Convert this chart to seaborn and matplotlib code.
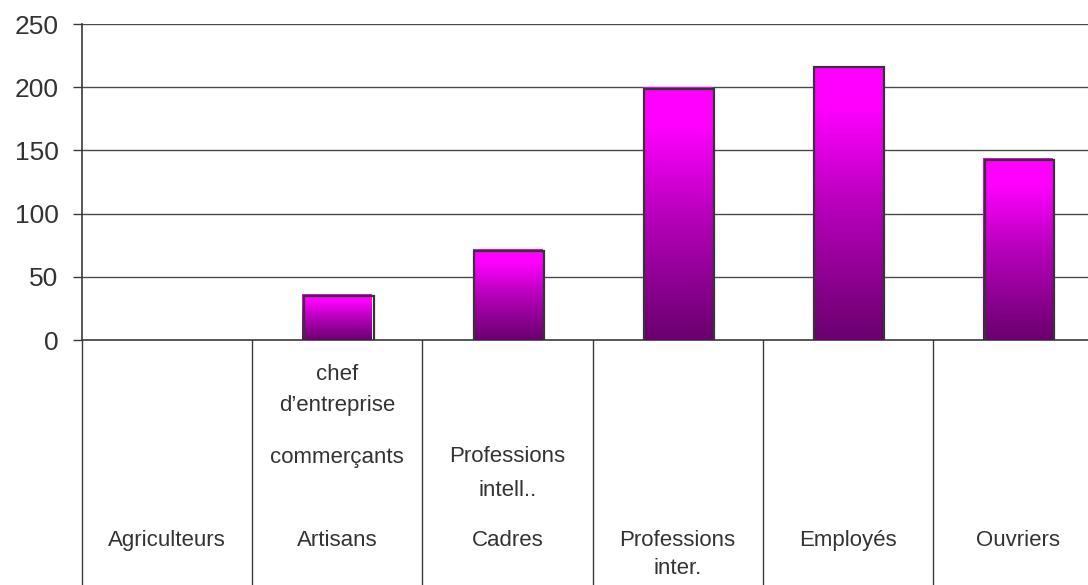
import numpy as np
import pandas as pd
import seaborn as sns
import matplotlib
matplotlib.use("Agg")
import matplotlib.pyplot as plt
from matplotlib.colors import LinearSegmentedColormap
from matplotlib.patches import Rectangle
from matplotlib.transforms import blended_transform_factory, ScaledTranslation

# Effectifs par catégorie socioprofessionnelle
categories = ["Agriculteurs", "Artisans", "Cadres", "Professions\ninter.", "Employés", "Ouvriers"]
values = [0, 36, 72, 200, 217, 144]
y_ticks = [0, 50, 100, 150, 200, 250]

# Lignes complémentaires au-dessus de certaines étiquettes
extra_labels = [
    (1, "chef", 375),
    (1, "d\u2019entreprise", 406),
    (1, "commerçants", 457),
    (2, "Professions", 457),
    (2, "intell..", 491),
]

sns.set_theme(style="white")
plt.rcParams["font.family"] = ["Liberation Sans", "DejaVu Sans"]

W, H = 1088, 585
LABEL_SIZE = 16
fig = plt.figure(figsize=(W / 100, H / 100), dpi=100)
ax = fig.add_axes([82 / W, (H - 340) / H, 1021 / W, 316 / H])

df = pd.DataFrame({"cat": categories, "val": values})
sns.barplot(data=df, x="cat", y="val", ax=ax, width=0.41, color="#ff00ff",
            saturation=1, zorder=3)

ax.set_xlim(-0.5, len(categories) - 0.5)
ax.set_ylim(0, 250)
ax.set_yticks(y_ticks)
ax.set_xlabel("")
ax.set_ylabel("")

# Grille horizontale
for t in y_ticks[1:]:
    ax.axhline(t, color="#4a4a4a", lw=1.0, zorder=1)

for s in ["top", "right"]:
    ax.spines[s].set_visible(False)
ax.spines["left"].set_color("#3a3a3a")
ax.spines["left"].set_linewidth(1.2)
ax.spines["bottom"].set_color("#3a3a3a")
ax.spines["bottom"].set_linewidth(1.2)

ax.tick_params(axis="y", left=True, length=6.5, width=1, color="#3a3a3a",
               pad=10.5, labelsize=19, labelcolor="#333333")
ax.tick_params(axis="x", bottom=False, length=0, pad=137,
               labelsize=LABEL_SIZE, labelcolor="#333333")
for lbl in ax.get_xticklabels():
    lbl.set_linespacing(1.45)

# Dégradé magenta -> violet foncé dans chaque barre
cmap = LinearSegmentedColormap.from_list(
    "mag", [(0.0, "#6a006e"), (0.5, "#b800bc"), (0.85, "#ff00ff"), (1.0, "#ff00ff")])
grad = np.linspace(0, 1, 256).reshape(-1, 1)
offset = ScaledTranslation(1.6 / 100, -1.6 / 100, fig.dpi_scale_trans)
for patch in ax.patches:
    x0, y0 = patch.get_x(), patch.get_y()
    w, h = patch.get_width(), patch.get_height()
    if h <= 0:
        patch.set_visible(False)
        continue
    patch.set_facecolor("none")
    patch.set_edgecolor("none")
    img = ax.imshow(grad, cmap=cmap, origin="lower", aspect="auto",
                    extent=[x0, x0 + w, y0, y0 + h], zorder=3)
    img.set_clip_path(patch)
    outline = Rectangle((x0, y0), w, h, fill=False, edgecolor="#353535",
                        lw=1.6, zorder=4, transform=ax.transData + offset)
    ax.add_patch(outline)

ax.set_xlim(-0.5, len(categories) - 0.5)
ax.set_ylim(0, 250)

# Séparateurs verticaux du tableau des catégories
sep = blended_transform_factory(ax.transData, ax.transAxes)
for b in np.arange(-0.5, len(categories) + 0.5, 1.0):
    ax.plot([b, b], [0, -0.8], color="#3a3a3a", lw=1.0, transform=sep,
            clip_on=False, zorder=2)

tr = blended_transform_factory(ax.transData, fig.transFigure)
for xi, txt, ypx in extra_labels:
    ax.text(xi, 1 - ypx / H, txt, transform=tr, ha="center", va="center",
            fontsize=LABEL_SIZE, color="#333333")

fig.savefig("out.png", dpi=100)
